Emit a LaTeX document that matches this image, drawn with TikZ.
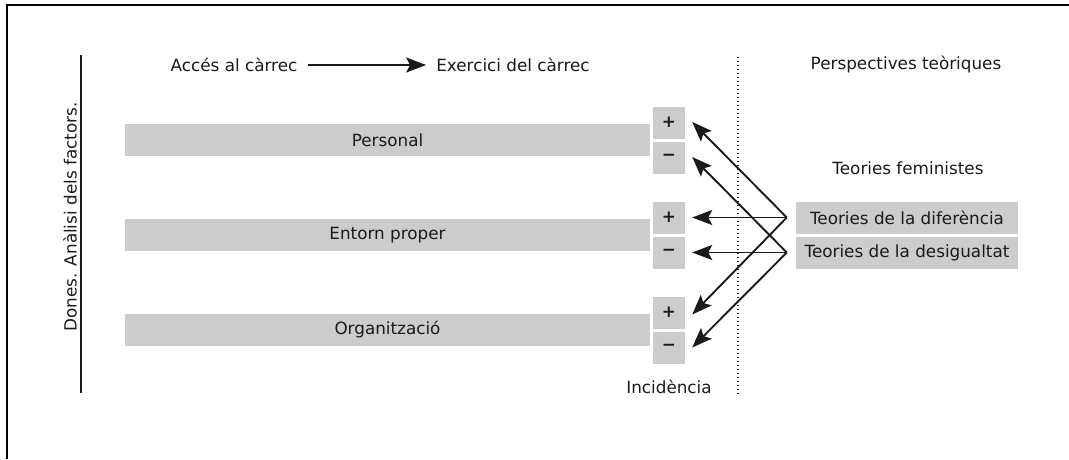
\documentclass[tikz,border=0pt]{standalone}
\usepackage{fontspec}
\setmainfont{DejaVu Sans}
\usetikzlibrary{arrows.meta}
\definecolor{barfill}{HTML}{CCCCCC}
\definecolor{inkgray}{HTML}{1A1A1A}

\begin{document}
\begin{tikzpicture}[x=1pt,y=-1pt,color=inkgray,
  every node/.style={font=\fontsize{16.8}{20}\selectfont},
  bar/.style={fill=barfill,minimum width=525pt,minimum height=32pt,inner sep=0pt},
  sign/.style={fill=barfill,minimum size=32pt,inner sep=0pt,font=\fontsize{16.8}{20}\selectfont\bfseries},
  theory/.style={fill=barfill,minimum width=222pt,minimum height=32pt,inner sep=0pt},
  arr/.style={-{Stealth[length=20pt,width=15pt,inset=4pt]},line width=1.9pt}]
\useasboundingbox (0,0) rectangle (1069,459);
\draw[line width=2.2pt,black] (7,459) -- (7,5) -- (1069,5);

\draw[line width=1.8pt] (81,55) -- (81,393);
\node(dones) [rotate=90] at (70,217) {Dones. Anàlisi dels factors.};

\node(acces) [inner sep=0pt] at (234,65) {Accés al càrrec};
\node(exercici) [inner sep=0pt] at (513,65) {Exercici del càrrec};
\node(persp) at (906,65) {Perspectives teòriques};
\draw[arr,shorten <=10pt,shorten >=10pt] (acces) -- (exercici);

\draw[line width=1.4pt,dash pattern=on 1.4pt off 2.6pt] (738,57) -- (738,395);

\node(personal) [bar] at (387.5,140) {Personal};
\node(entorn) [bar] at (387.5,235) {Entorn proper};
\node(org) [bar] at (387.5,330) {Organització};

\node(pplus) [sign] at (669,122.5) {+};
\node(pminus) [sign] at (669,157.5) {−};
\node(eplus) [sign] at (669,217.5) {+};
\node(eminus) [sign] at (669,252.5) {−};
\node(oplus) [sign] at (669,312.5) {+};
\node(ominus) [sign] at (669,347.5) {−};
\node(incid) at (669,387) {Incidència};

\node(femin) at (908,168) {Teories feministes};
\node(difer) [theory] at (907,217.5) {Teories de la diferència};
\node(desig) [theory] at (907,252.5) {Teories de la desigualtat};

\coordinate (dapex) at ([xshift=-9pt]difer.west);
\coordinate (sapex) at ([xshift=-9pt]desig.west);
\draw[arr] (dapex) -- ([xshift=7pt,yshift=0.5pt]pplus.east);
\draw[arr] (sapex) -- ([xshift=7pt,yshift=0.5pt]pminus.east);
\draw[arr] (dapex) -- ([xshift=7pt]eplus.east);
\draw[arr] (sapex) -- ([xshift=7pt]eminus.east);
\draw[arr] (dapex) -- ([xshift=7pt,yshift=-2pt]oplus.east);
\draw[arr] (sapex) -- ([xshift=7pt]ominus.east);
\end{tikzpicture}
\end{document}
